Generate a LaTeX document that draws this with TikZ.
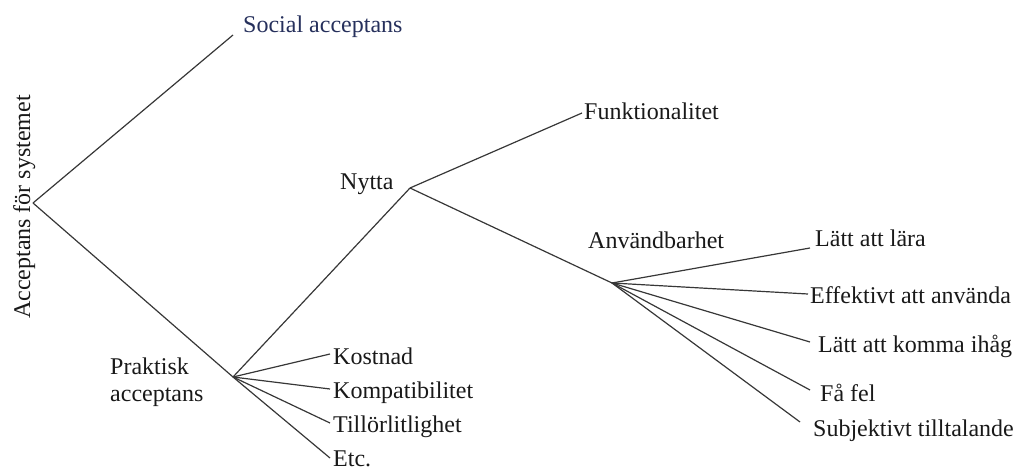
\documentclass[tikz,border=0pt]{standalone}
\usepackage{fontspec}
\setmainfont{Liberation Serif}
\definecolor{navy}{RGB}{38,48,92}
\definecolor{ink}{RGB}{25,25,25}
\definecolor{linec}{RGB}{55,55,55}
\begin{document}
\begin{tikzpicture}[x=1pt,y=-1pt,
  lbl/.style={inner sep=0pt,anchor=base west,text=ink,font=\fontsize{24}{27}\selectfont},
  conn/.style={draw=linec,line width=1.2pt}]
\useasboundingbox (0,0) rectangle (1016,470);
% branch points
\coordinate (R) at (33,203);
\coordinate (P) at (233,377);
\coordinate (N) at (410,188);
\coordinate (A) at (612,283);
% line ends
\coordinate (eSoc) at (233,35);
\coordinate (eFunk) at (582,113);
\coordinate (eKost) at (330,354);
\coordinate (eKomp) at (330,389);
\coordinate (eTill) at (330,423);
\coordinate (eEtc) at (330,458);
\coordinate (eLara) at (810,248);
\coordinate (eEff) at (808,294);
\coordinate (eKom) at (810,342);
\coordinate (eFa) at (810,390);
\coordinate (eSub) at (800,422);
% labels
\node[lbl,anchor=base,rotate=90] (acc) at (30,207) {Acceptans för systemet};
\node[lbl,text=navy] (social) at (243,33) {Social acceptans};
\node[lbl,anchor=north west,align=left] (prak) at (110,357.6) {Praktisk\\acceptans};
\node[lbl] (nytta) at (340,190) {Nytta};
\node[lbl] (funk) at (584,120) {Funktionalitet};
\node[lbl] (anv) at (588,248) {Användbarhet};
\node[lbl] (kost) at (333,364) {Kostnad};
\node[lbl] (komp) at (333,398) {Kompatibilitet};
\node[lbl] (till) at (333,432) {Tillörlitlighet};
\node[lbl] (etc) at (333,466) {Etc.};
\node[lbl] (lara) at (815,247) {Lätt att lära};
\node[lbl] (eff) at (810,303) {Effektivt att använda};
\node[lbl] (kom) at (818,352) {Lätt att komma ihåg};
\node[lbl] (fa) at (820,401) {Få fel};
\node[lbl] (sub) at (813,436) {Subjektivt tilltalande};
% connectors
\draw[conn] (R) -- (eSoc);
\draw[conn] (R) -- (P);
\draw[conn] (P) -- (N);
\draw[conn] (P) -- (eKost);
\draw[conn] (P) -- (eKomp);
\draw[conn] (P) -- (eTill);
\draw[conn] (P) -- (eEtc);
\draw[conn] (N) -- (eFunk);
\draw[conn] (N) -- (A);
\draw[conn] (A) -- (eLara);
\draw[conn] (A) -- (eEff);
\draw[conn] (A) -- (eKom);
\draw[conn] (A) -- (eFa);
\draw[conn] (A) -- (eSub);
\end{tikzpicture}
\end{document}
